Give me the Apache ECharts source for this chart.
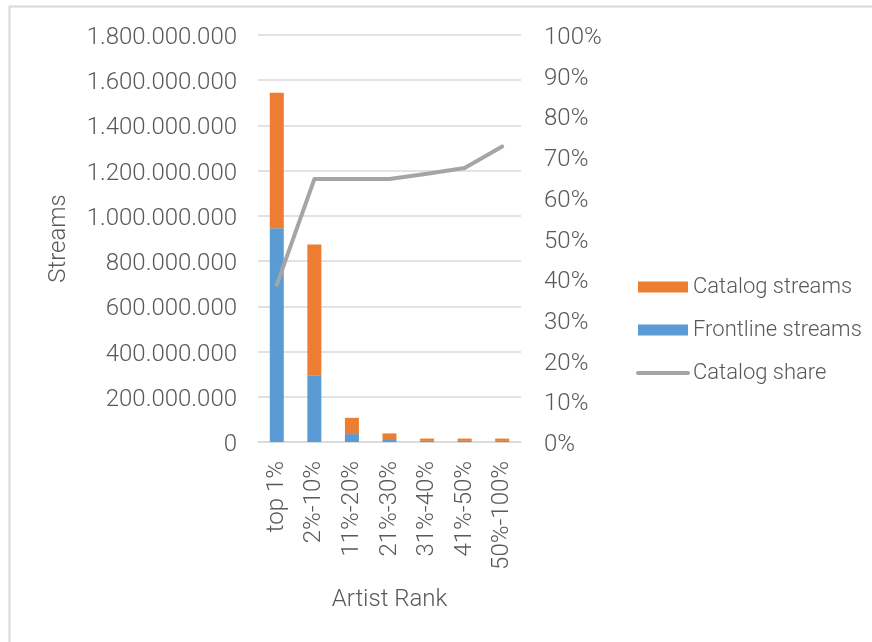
<!DOCTYPE html>
<html>
<head>
<meta charset="utf-8">
<script src="https://cdn.jsdelivr.net/npm/echarts@6/dist/echarts.min.js"></script>
<style>
  html, body { margin: 0; padding: 0; background: #fff; }
  #chart { width: 872px; height: 642px; }
</style>
</head>
<body>
<div id="chart"></div>
<script>
// Streams per artist-rank bucket, split into frontline and catalog, plus catalog share
const categories = ['top 1%', '2%-10%', '11%-20%', '21%-30%', '31%-40%', '41%-50%', '50%-100%'];
const frontlineStreams = [945000000, 295000000, 35000000, 13000000, 5000000, 5000000, 5000000];
const catalogStreams = [600000000, 578000000, 72000000, 25000000, 10000000, 10000000, 10000000];
const catalogShare = [0.386, 0.646, 0.646, 0.646, 0.659, 0.673, 0.726];

const FONT = 'Roboto';
const TEXT = '#595959';
const GRID = '#d9d9d9';

function dotted(v) {
  return '{t|' + String(Math.round(v)).replace(/\B(?=(\d{3})+(?!\d))/g, '.') + '}';
}

// tick text sits a few pixels below its gridline
const tickRich = {
  t: { fontFamily: FONT, fontWeight: 300, fontSize: 24, color: TEXT, padding: [6, 0, 0, 0] }
};

const chart = echarts.init(document.getElementById('chart'));
chart.setOption({
  animation: false,
  backgroundColor: '#fff',
  textStyle: { fontFamily: FONT, fontWeight: 300, color: TEXT },
  graphic: [{
    type: 'rect',
    shape: { x: 9.5, y: 6.5, width: 900, height: 700 },
    style: { fill: 'none', stroke: GRID, lineWidth: 2 },
    silent: true
  }],
  grid: { left: 258, right: 351, top: 35, bottom: 200 },
  legend: {
    orient: 'vertical',
    left: 631,
    top: 271,
    itemWidth: 50,
    itemHeight: 11,
    itemGap: 21,
    textStyle: { fontFamily: FONT, fontWeight: 300, fontSize: 22, color: TEXT },
    data: [
      { name: 'Catalog streams', icon: 'rect' },
      { name: 'Frontline streams', icon: 'rect' },
      { name: 'Catalog share', itemStyle: { opacity: 0 }, lineStyle: { width: 4, color: '#a5a5a5' } }
    ]
  },
  xAxis: {
    type: 'category',
    data: categories,
    name: 'Artist Rank',
    nameLocation: 'middle',
    nameGap: 146,
    nameTextStyle: { fontFamily: FONT, fontWeight: 300, fontSize: 24, color: TEXT },
    axisLine: { lineStyle: { color: GRID, width: 1.5 } },
    axisTick: { show: false },
    axisLabel: {
      rotate: 90,
      margin: 19,
      fontFamily: FONT, fontWeight: 300, fontSize: 24, color: TEXT
    }
  },
  yAxis: [{
    type: 'value',
    min: 0,
    max: 1800000000,
    interval: 200000000,
    name: 'Streams',
    nameLocation: 'middle',
    nameRotate: 90,
    nameGap: 187,
    nameTextStyle: { fontFamily: FONT, fontWeight: 300, fontSize: 24, color: TEXT },
    axisLine: { show: false },
    axisTick: { show: false },
    splitLine: { lineStyle: { color: GRID, width: 1.5 } },
    axisLabel: {
      margin: 21,
      formatter: dotted,
      rich: tickRich
    }
  }, {
    type: 'value',
    min: 0,
    max: 1,
    interval: 0.1,
    axisLine: { show: false },
    axisTick: { show: false },
    splitLine: { show: false },
    axisLabel: {
      margin: 23,
      formatter: v => '{t|' + Math.round(v * 100) + '%}',
      rich: tickRich
    }
  }],
  series: [{
    name: 'Frontline streams',
    type: 'bar',
    stack: 'streams',
    barWidth: 14,
    itemStyle: { color: '#5b9bd5' },
    data: frontlineStreams
  }, {
    name: 'Catalog streams',
    type: 'bar',
    stack: 'streams',
    barWidth: 14,
    itemStyle: { color: '#ed7d31' },
    data: catalogStreams
  }, {
    name: 'Catalog share',
    type: 'line',
    yAxisIndex: 1,
    symbol: 'none',
    showSymbol: false,
    lineStyle: { color: '#a5a5a5', width: 4, cap: 'round', join: 'round' },
    itemStyle: { color: '#a5a5a5' },
    data: catalogShare
  }]
});
</script>
</body>
</html>
